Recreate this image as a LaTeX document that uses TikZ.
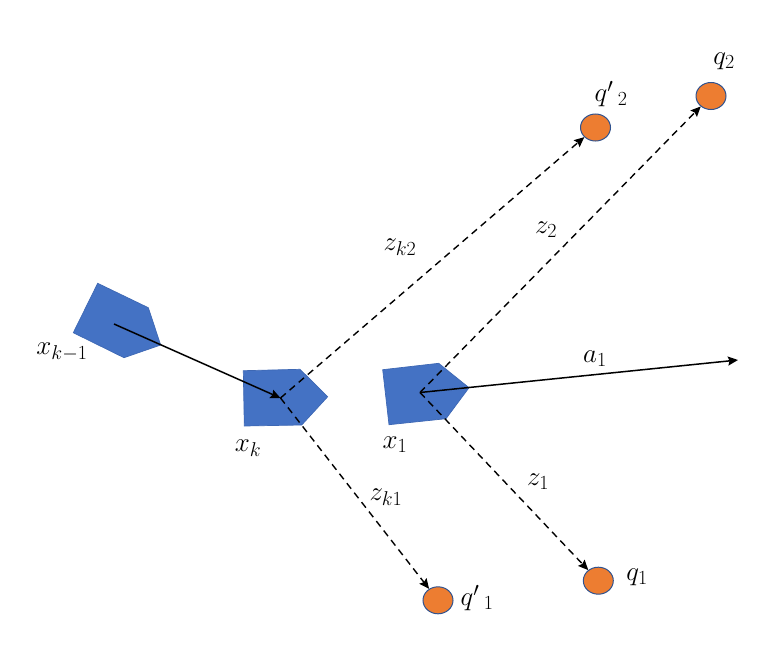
\documentclass[tikz,border=0pt]{standalone}
\usepackage{fix-cm}
\usepackage{amsmath}
\usetikzlibrary{arrows.meta,shapes.geometric}
\DeclareMathSizes{27}{27}{20}{15}
\definecolor{rblue}{RGB}{68,114,196}
\definecolor{rorange}{RGB}{237,125,49}
\definecolor{redge}{RGB}{47,82,143}
\tikzset{
  robot/.style={draw=rblue!70!redge,line width=0.7pt,fill=rblue},
  lm/.style={ellipse,draw=redge,line width=1pt,fill=rorange,minimum width=30pt,minimum height=27pt,inner sep=0pt},
  lab/.style={inner sep=0pt,font=\fontsize{27}{29}\selectfont},
  solidarrow/.style={line width=1.5pt,-{Stealth[inset=1.5pt,length=10pt,width=9pt]}},
  dasharrow/.style={line width=1.4pt,dash pattern=on 7pt off 5pt,-{Stealth[inset=1.5pt,length=10pt,width=9pt]}}
}
\begin{document}
\begin{tikzpicture}[x=1pt,y=-1pt]
\useasboundingbox (0,0) rectangle (764,656);
\draw[robot] (97.7,283.3) -- (148.3,307.7) -- (160.7,345) -- (124,357.7) -- (73.3,332.7) -- cycle;
\draw[robot] (243.3,370.7) -- (300,369.3) -- (327.7,396.7) -- (301.7,425) -- (244.3,426) -- cycle;
\draw[robot] (382.7,369.7) -- (438.7,363.3) -- (469,387.7) -- (446,418.7) -- (389,424.7) -- cycle;
\coordinate (ckm) at (114,324);
\coordinate (ck) at (280.5,398);
\coordinate (c1) at (420,392.5);
\coordinate (aend) at (738,360);
\node[lm] (q2) at (711,96) {};
\node[lm] (qp2) at (595.5,127.5) {};
\node[lm] (q1) at (598.3,580.7) {};
\node[lm] (qp1) at (438,600.3) {};
\draw[solidarrow] (ckm) -- (ck);
\draw[solidarrow] (c1) -- (aend);
\draw[dasharrow] (ck) -- (qp2);
\draw[dasharrow] (ck) -- (qp1);
\draw[dasharrow] (c1) -- (q2);
\draw[dasharrow] (c1) -- (q1);
\node[lab] (lxkm) at (62,352) {$x_{k-1}$};
\node[lab] (lxk) at (248,448) {$x_k$};
\node[lab] (lx1) at (395,445) {$x_1$};
\node[lab] (lzk2) at (400,247) {$z_{k2}$};
\node[lab] (lz2) at (546,230) {$z_2$};
\node[lab] (la1) at (595,359) {$a_1$};
\node[lab] (lz1) at (538,482) {$z_1$};
\node[lab] (lzk1) at (386,497) {$z_{k1}$};
\node[lab] (lq1) at (637,577) {$q_1$};
\node[lab] (lqp1) at (477,598) {$q'{}\,{}_1$};
\node[lab] (lqp2) at (611,94) {$q'{}\,{}_2$};
\node[lab] (lq2) at (724,61) {$q_2$};
\end{tikzpicture}
\end{document}
